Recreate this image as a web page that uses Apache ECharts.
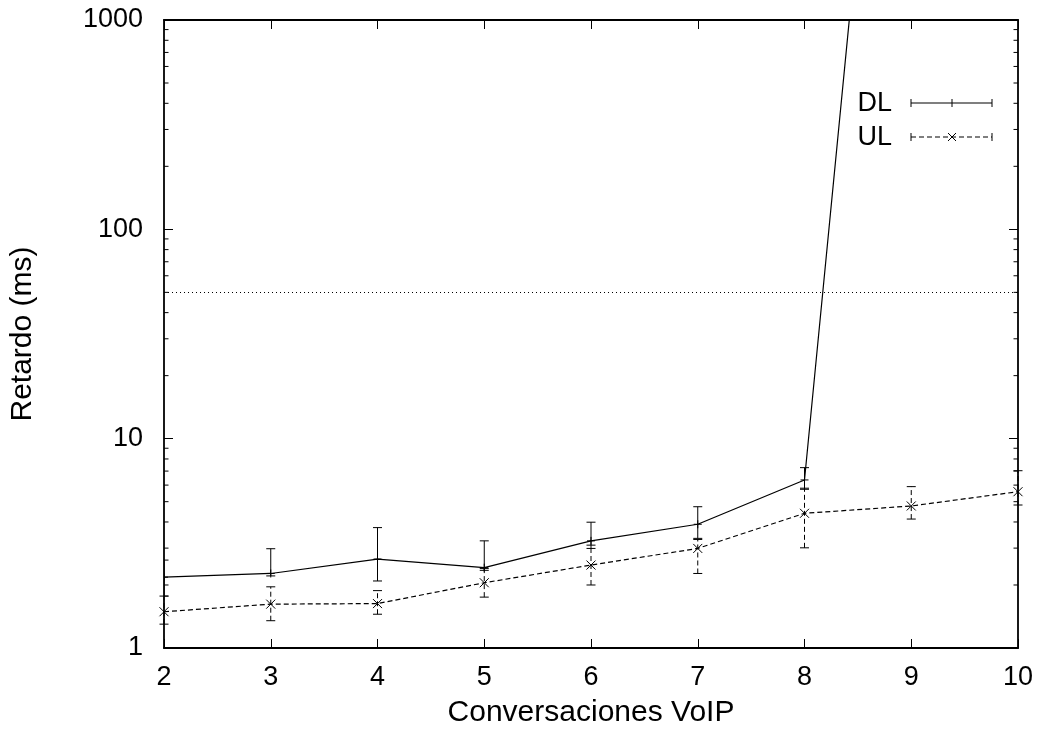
<!DOCTYPE html>
<html>
<head>
<meta charset="utf-8">
<script src="https://cdn.jsdelivr.net/npm/echarts@6/dist/echarts.min.js"></script>
<style>
  html, body { margin: 0; padding: 0; background: #fff; }
  #chart { width: 1042px; height: 738px; }
</style>
</head>
<body>
<div id="chart"></div>
<script>
// conversaciones VoIP
const conversaciones = [2, 3, 4, 5, 6, 7, 8, 9, 10]
// DL: media, min, max (ms) -- a partir de 9 se sale de la gráfica
const dlMedia = [2.18, 2.27, 2.66, 2.42, 3.25, 3.90, 6.35, 1.1e6, 2.5e6]
const dlMin = [1.77, 2.21, 2.09, 2.35, 2.99, 3.34, 5.73, null, null]
const dlMax = [2.63, 2.98, 3.76, 3.25, 3.99, 4.73, 7.27, null, null]
// UL: media, min, max (ms)
const ulMedia = [1.49, 1.62, 1.63, 2.05, 2.49, 2.99, 4.40, 4.77, 5.58]
const ulMin = [1.30, 1.35, 1.45, 1.75, 2.00, 2.27, 3.01, 4.13, 4.82]
const ulMax = [1.77, 1.96, 1.88, 2.40, 3.10, 3.30, 5.80, 5.90, 7.03]
// umbral de retardo
const umbral = 50
// ticks menores del eje log
const yMinorTicks = [2, 3, 4, 5, 6, 7, 8, 9, 20, 30, 40, 50, 60, 70, 80, 90, 200, 300, 400, 500, 600, 700, 800, 900]

const FONT = 'Liberation Sans'

function errData (media, lo, hi) {
  const out = []
  conversaciones.forEach((x, i) => {
    if (lo[i] != null) out.push([x, media[i], lo[i], hi[i]])
  })
  return out
}

function errRender (marker, dashed) {
  return function (params, api) {
    const x = api.value(0)
    const m = api.coord([x, api.value(1)])
    const lo = api.coord([x, api.value(2)])
    const hi = api.coord([x, api.value(3)])
    const st = { stroke: '#000', lineWidth: 1, lineDash: dashed ? [5, 3] : null }
    const c = 4.5
    const kids = [
      { type: 'line', shape: { x1: lo[0], y1: lo[1], x2: hi[0], y2: hi[1] }, style: st },
      { type: 'line', shape: { x1: lo[0] - c, y1: lo[1], x2: lo[0] + c, y2: lo[1] }, style: { stroke: '#000', lineWidth: 1 } },
      { type: 'line', shape: { x1: hi[0] - c, y1: hi[1], x2: hi[0] + c, y2: hi[1] }, style: { stroke: '#000', lineWidth: 1 } }
    ]
    if (marker === 'plus') {
      kids.push({ type: 'line', shape: { x1: m[0] - 4, y1: m[1], x2: m[0] + 4, y2: m[1] }, style: { stroke: '#000', lineWidth: 1 } })
      kids.push({ type: 'line', shape: { x1: m[0], y1: m[1] - 4, x2: m[0], y2: m[1] + 4 }, style: { stroke: '#000', lineWidth: 1 } })
    } else {
      kids.push({ type: 'line', shape: { x1: m[0] - 4.5, y1: m[1] - 4.5, x2: m[0] + 4.5, y2: m[1] + 4.5 }, style: { stroke: '#000', lineWidth: 1 } })
      kids.push({ type: 'line', shape: { x1: m[0] - 4.5, y1: m[1] + 4.5, x2: m[0] + 4.5, y2: m[1] - 4.5 }, style: { stroke: '#000', lineWidth: 1 } })
    }
    return { type: 'group', children: kids }
  }
}

function minorRender (params, api) {
  const v = api.value(0)
  const l = api.coord([2, v])
  const r = api.coord([10, v])
  const st = { stroke: '#000', lineWidth: 1 }
  return {
    type: 'group',
    children: [
      { type: 'line', shape: { x1: l[0], y1: l[1], x2: l[0] + 4.5, y2: l[1] }, style: st },
      { type: 'line', shape: { x1: r[0], y1: r[1], x2: r[0] - 4.5, y2: r[1] }, style: st }
    ]
  }
}

const axisLine = { show: true, onZero: false, lineStyle: { color: '#000', width: 1.8 } }
const tickIn = { show: true, inside: true, length: 9, lineStyle: { color: '#000', width: 1 } }

const xBase = { type: 'value', min: 2, max: 10, interval: 1, axisLine: axisLine, axisTick: tickIn, splitLine: { show: false } }
const yBase = { type: 'log', logBase: 10, min: 1, max: 1000, axisLine: axisLine, axisTick: tickIn, splitLine: { show: false }, minorTick: { show: false } }

const myChart = echarts.init(document.getElementById('chart'), null, { renderer: 'canvas' })
myChart.setOption({
  animation: false,
  backgroundColor: '#fff',
  textStyle: { fontFamily: FONT },
  grid: { left: 163, right: 24, top: 20, bottom: 90, containLabel: false },
  xAxis: [
    Object.assign({}, xBase, {
      position: 'bottom',
      name: 'Conversaciones VoIP',
      nameLocation: 'middle',
      nameGap: 50,
      nameTextStyle: { fontFamily: FONT, fontSize: 30, color: '#000' },
      axisLabel: { fontFamily: FONT, fontSize: 27, color: '#000', margin: 16 }
    }),
    Object.assign({}, xBase, { position: 'top', axisLabel: { show: false } })
  ],
  yAxis: [
    Object.assign({}, yBase, {
      position: 'left',
      name: 'Retardo (ms)',
      nameLocation: 'middle',
      nameGap: 126,
      nameTextStyle: { fontFamily: FONT, fontSize: 30, color: '#000' },
      axisLabel: {
        fontFamily: FONT, fontSize: 27, color: '#000', margin: 21,
        formatter: v => String(Math.round(v))
      }
    }),
    Object.assign({}, yBase, { position: 'right', axisLabel: { show: false } })
  ],
  series: [
    {
      name: 'DL',
      type: 'line',
      data: conversaciones.map((x, i) => [x, dlMedia[i]]),
      symbol: 'none',
      clip: true,
      lineStyle: { color: '#000', width: 1.2 },
      markLine: {
        silent: true,
        symbol: 'none',
        label: { show: false },
        lineStyle: { color: '#000', width: 1, type: [1, 3] },
        data: [{ yAxis: umbral }]
      }
    },
    {
      name: 'UL',
      type: 'line',
      data: conversaciones.map((x, i) => [x, ulMedia[i]]),
      symbol: 'none',
      clip: true,
      lineStyle: { color: '#000', width: 1.2, type: [5, 3] }
    },
    {
      type: 'custom',
      clip: true,
      renderItem: errRender('plus', false),
      data: errData(dlMedia, dlMin, dlMax),
      z: 5
    },
    {
      type: 'custom',
      clip: false,
      renderItem: errRender('cross', true),
      data: errData(ulMedia, ulMin, ulMax),
      z: 5
    },
    {
      type: 'custom',
      renderItem: minorRender,
      data: yMinorTicks.map(v => [v]),
      encode: { y: 0 },
      z: 6
    }
  ],
  graphic: [
    { type: 'text', x: 892, y: 104, style: { text: 'DL', font: '27px ' + FONT, fill: '#000', align: 'right', verticalAlign: 'middle' } },
    { type: 'line', shape: { x1: 911, y1: 103, x2: 992, y2: 103 }, style: { stroke: '#000', lineWidth: 1.2 } },
    { type: 'line', shape: { x1: 911, y1: 99, x2: 911, y2: 107 }, style: { stroke: '#000', lineWidth: 1 } },
    { type: 'line', shape: { x1: 992, y1: 99, x2: 992, y2: 107 }, style: { stroke: '#000', lineWidth: 1 } },
    { type: 'line', shape: { x1: 952, y1: 99, x2: 952, y2: 107 }, style: { stroke: '#000', lineWidth: 1 } },
    { type: 'text', x: 892, y: 138, style: { text: 'UL', font: '27px ' + FONT, fill: '#000', align: 'right', verticalAlign: 'middle' } },
    { type: 'line', shape: { x1: 911, y1: 137, x2: 992, y2: 137 }, style: { stroke: '#000', lineWidth: 1.2, lineDash: [5, 3] } },
    { type: 'line', shape: { x1: 911, y1: 133, x2: 911, y2: 141 }, style: { stroke: '#000', lineWidth: 1 } },
    { type: 'line', shape: { x1: 992, y1: 133, x2: 992, y2: 141 }, style: { stroke: '#000', lineWidth: 1 } },
    { type: 'line', shape: { x1: 948, y1: 133, x2: 956, y2: 141 }, style: { stroke: '#000', lineWidth: 1 } },
    { type: 'line', shape: { x1: 948, y1: 141, x2: 956, y2: 133 }, style: { stroke: '#000', lineWidth: 1 } }
  ]
})
</script>
</body>
</html>
